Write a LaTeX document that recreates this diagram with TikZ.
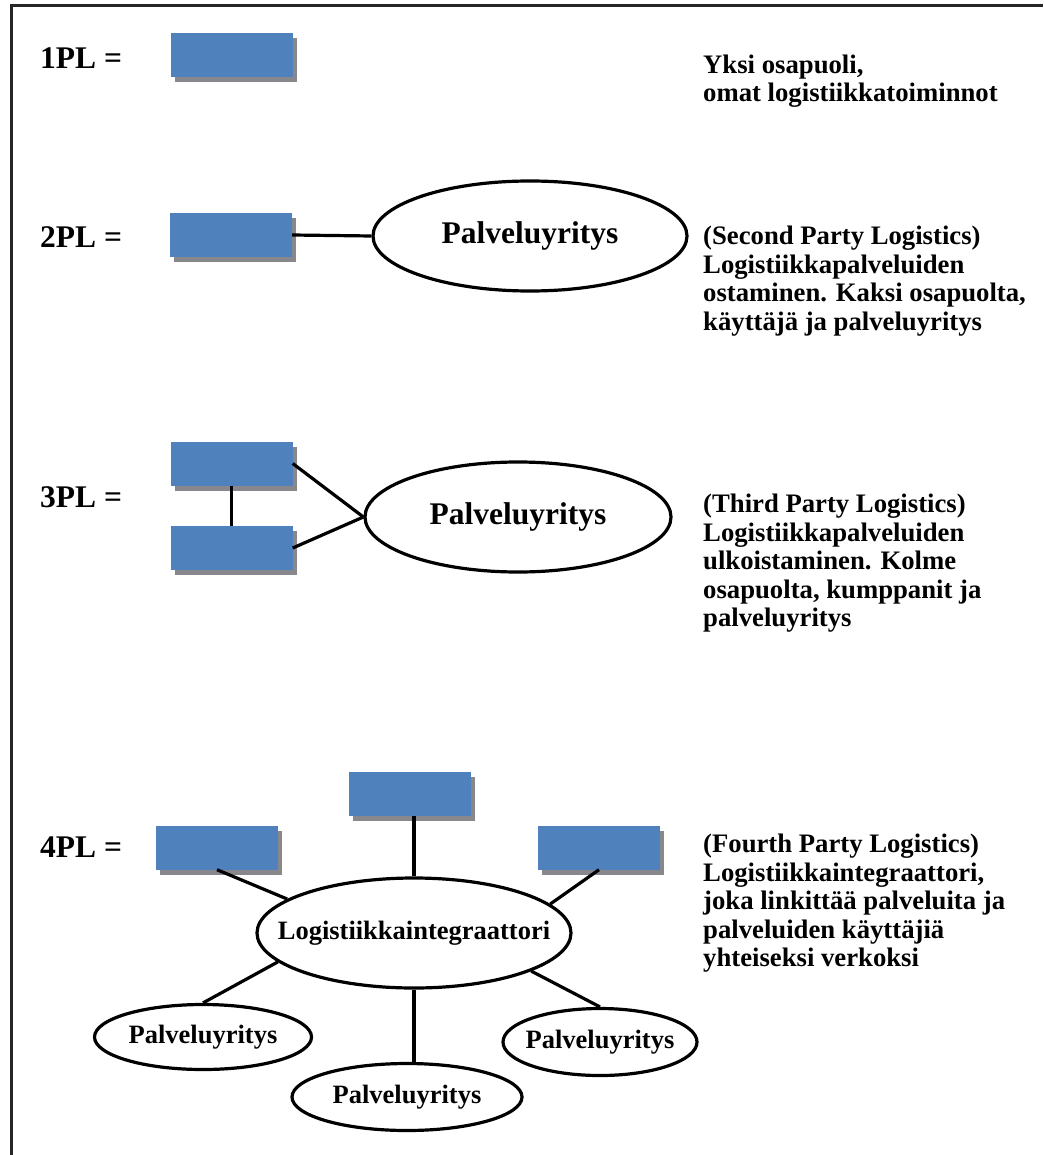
\documentclass[tikz,border=0pt]{standalone}
\usepackage{fontspec}
\setmainfont{Liberation Serif}
\usepackage{tikz}
\usetikzlibrary{shapes.geometric, shadows}
\definecolor{plblue}{RGB}{79,129,189}
\definecolor{plshadow}{RGB}{135,135,140}

\begin{document}
\begin{tikzpicture}[x=1pt,y=-1pt,
  plbox/.style={rectangle, fill=plblue, minimum width=122pt, minimum height=44pt, inner sep=0pt,
    drop shadow={shadow xshift=4pt, shadow yshift=-5pt, fill=plshadow, opacity=1}},
  plellipse/.style={ellipse, draw, line width=3.2pt, fill=white, inner xsep=-30pt, inner ysep=0pt},
  plline/.style={line width=3.2pt},
  pllabel/.style={anchor=west, inner sep=0pt, font=\bfseries\fontsize{31.5}{33}\selectfont},
  pltext/.style={anchor=base west, inner sep=0pt, align=left, font=\bfseries\fontsize{26.7}{28.4}\selectfont}]
\useasboundingbox (0,0) rectangle (1043,1155);

% Frame
\draw[line width=3pt, black!85] (11,1155) -- (11,6) -- (1043,6);

% Labels
\node[pllabel] (l1) at (40,58) {1PL =};
\node[pllabel] (l2) at (40,237) {2PL =};
\node[pllabel] (l3) at (40,497) {3PL =};
\node[pllabel] (l4) at (40,847) {4PL =};

% 1PL
\node[plbox] (b1) at (231.5,55) {};

% 2PL
\node[plbox] (b2) at (231,235) {};
\node[plellipse, minimum width=314pt, minimum height=110pt, font=\bfseries\fontsize{31.5}{33}\selectfont] (e2) at (530,236) {Palveluyritys};
\draw[plline] (b2.east) -- (e2.west);

% 3PL
\node[plbox] (b3a) at (231.5,463.5) {};
\node[plbox] (b3b) at (231.5,548) {};
\node[plellipse, minimum width=306pt, minimum height=110pt, font=\bfseries\fontsize{31.5}{33}\selectfont] (e3) at (518,517) {Palveluyritys};
\draw[plline] (b3a) -- (b3b);
\draw[plline] (b3a.east) -- (e3.west);
\draw[plline] (b3b.east) -- (e3.west);

% 4PL
\node[plbox] (b4t) at (410,793.5) {};
\node[plbox] (b4l) at (217,847.5) {};
\node[plbox] (b4r) at (599,847.5) {};
\node[plellipse, minimum width=314pt, minimum height=110pt, font=\bfseries\fontsize{26.5}{28}\selectfont] (e4) at (414,933) {Logistiikkaintegraattori};
\node[plellipse, minimum width=217pt, minimum height=65pt, font=\bfseries\fontsize{26.5}{28}\selectfont] (p4l) at (203,1037) {Palveluyritys};
\node[plellipse, minimum width=230pt, minimum height=67pt, font=\bfseries\fontsize{26.5}{28}\selectfont] (p4m) at (407,1097) {Palveluyritys};
\node[plellipse, minimum width=194pt, minimum height=67pt, font=\bfseries\fontsize{26.5}{28}\selectfont] (p4r) at (600,1042) {Palveluyritys};
\draw[plline] (e4.north |- b4t.south) -- (e4.north);
\draw[plline] (b4l.south) -- (e4.165);
\draw[plline] (b4r.south) -- (e4.12);
\draw[plline] (e4.192) -- (p4l.north);
\draw[plline] (e4.south) -- (e4.south |- p4m.north);
\draw[plline] (e4.342) -- (p4r.north);

% Descriptions (anchored at the last line)
\node[pltext] (t1) at (703,101.5) {Yksi osapuoli,\\omat logistiikkatoiminnot};
\node[pltext] (t2) at (703,330) {(Second Party Logistics)\\Logistiikkapalveluiden\\ostaminen. Kaksi osapuolta,\\käyttäjä ja palveluyritys};
\node[pltext] (t3) at (703,626.5) {(Third Party Logistics)\\Logistiikkapalveluiden\\ulkoistaminen. Kolme\\osapuolta, kumppanit ja\\palveluyritys};
\node[pltext] (t4) at (703,966.5) {(Fourth Party Logistics)\\Logistiikkaintegraattori,\\joka linkittää palveluita ja\\palveluiden käyttäjiä\\yhteiseksi verkoksi};
\end{tikzpicture}
\end{document}
